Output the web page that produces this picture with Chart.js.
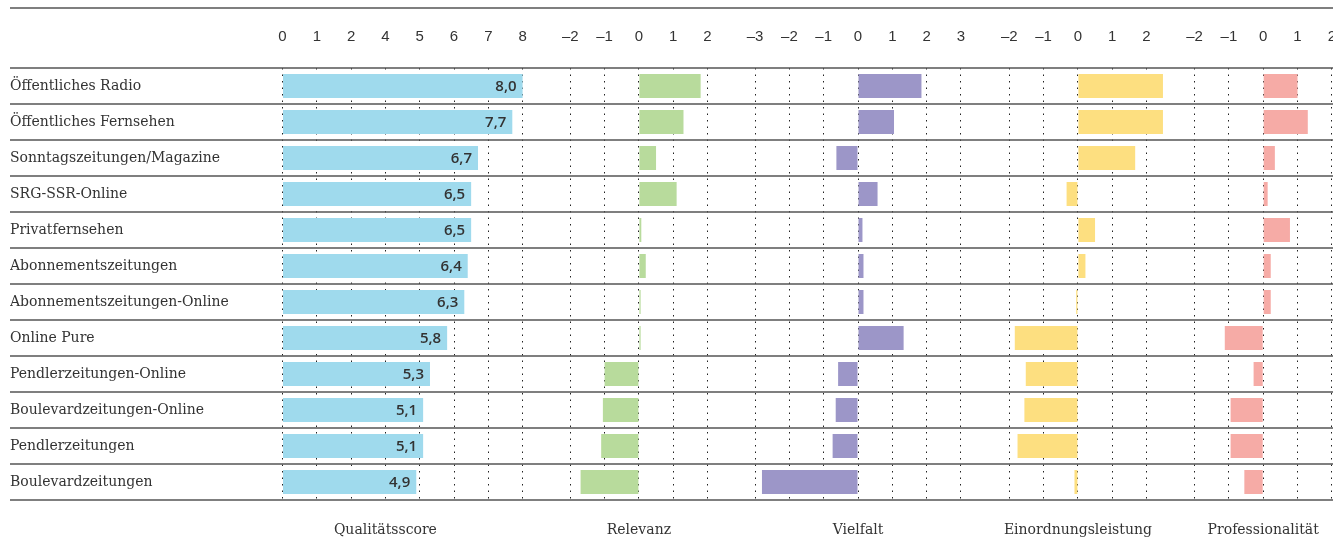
<!DOCTYPE html>
<html>
<head>
<meta charset="utf-8">
<script src="https://cdn.jsdelivr.net/npm/chart.js@4/dist/chart.umd.min.js"></script>
<style>
  html, body { margin: 0; padding: 0; background: #fff; overflow: hidden; }
  #wrap { position: relative; width: 1333px; height: 543px; }
  .panel { position: absolute; top: 0; height: 543px; }
</style>
</head>
<body>
<div id="wrap">
  <div class="panel" style="left:0;width:546px"><canvas id="c1"></canvas></div>
  <div class="panel" style="left:546px;width:185px"><canvas id="c2"></canvas></div>
  <div class="panel" style="left:731px;width:254px"><canvas id="c3"></canvas></div>
  <div class="panel" style="left:985px;width:186px"><canvas id="c4"></canvas></div>
  <div class="panel" style="left:1171px;width:174px"><canvas id="c5"></canvas></div>
</div>
<script>
const categories = [
  "Öffentliches Radio",
  "Öffentliches Fernsehen",
  "Sonntagszeitungen/Magazine",
  "SRG-SSR-Online",
  "Privatfernsehen",
  "Abonnementszeitungen",
  "Abonnementszeitungen-Online",
  "Online Pure",
  "Pendlerzeitungen-Online",
  "Boulevardzeitungen-Online",
  "Pendlerzeitungen",
  "Boulevardzeitungen"
];

const qualityScore = [8.0, 7.7, 6.7, 6.5, 6.5, 6.4, 6.3, 5.8, 5.3, 5.1, 5.1, 4.9];
const relevanz = [1.8, 1.3, 0.5, 1.1, 0.07, 0.2, 0.05, 0.05, -1.0, -1.05, -1.1, -1.7];
const vielfalt = [1.85, 1.05, -0.63, 0.57, 0.13, 0.16, 0.16, 1.33, -0.58, -0.65, -0.74, -2.8];
const einordnung = [2.48, 2.48, 1.67, -0.33, 0.5, 0.22, -0.05, -1.84, -1.52, -1.56, -1.76, -0.1];
const professionalitaet = [1.0, 1.3, 0.34, 0.13, 0.78, 0.22, 0.22, -1.12, -0.28, -0.95, -0.95, -0.55];

// tick labels of the first panel as printed (ticks sit at 1..8)
const qualityTicks = ["0", "1", "2", "4", "5", "6", "7", "8"];

const TEXT = "#333";
const SERIF = "'DejaVu Serif', serif";

function signed(v) {
  return v < 0 ? "\u2013" + Math.abs(v) : String(v);
}

// row separators, top rule, panel title and (optionally) value labels
const panelDecor = {
  id: "panelDecor",
  afterDraw(chart, args, opts) {
    const ctx = chart.ctx;
    const area = chart.chartArea;
    const n = categories.length;
    const rowH = (area.bottom - area.top) / n;
    ctx.save();
    ctx.strokeStyle = "#555";
    ctx.lineWidth = 1.5;
    ctx.beginPath();
    ctx.moveTo(opts.x0, 8);
    ctx.lineTo(chart.width, 8);
    for (let i = 0; i <= n; i++) {
      const y = area.top + i * rowH;
      ctx.moveTo(opts.x0, y);
      ctx.lineTo(chart.width, y);
    }
    ctx.stroke();

    ctx.fillStyle = TEXT;
    ctx.font = "14px " + SERIF;
    ctx.textAlign = "center";
    ctx.textBaseline = "middle";
    ctx.fillText(opts.title, chart.scales.x.getPixelForValue(opts.titleAt), 530);

    if (opts.valueLabels) {
      const meta = chart.getDatasetMeta(0);
      const data = chart.data.datasets[0].data;
      ctx.font = "600 15px 'Open Sans', sans-serif";
      ctx.textAlign = "right";
      meta.data.forEach((bar, i) => {
        ctx.fillText(data[i].toFixed(1).replace(".", ","), bar.x - 6, bar.y + 1);
      });
    }
    ctx.restore();
  }
};

function makePanel(canvasId, values, color, cfg) {
  return new Chart(document.getElementById(canvasId), {
    type: "bar",
    data: {
      labels: categories,
      datasets: [{
        data: values,
        backgroundColor: color,
        borderWidth: 0,
        base: cfg.base,
        clip: false,
        barPercentage: 0.667,
        categoryPercentage: 1.0
      }]
    },
    options: {
      indexAxis: "y",
      responsive: true,
      maintainAspectRatio: false,
      animation: false,
      layout: { padding: { left: cfg.padLeft, right: cfg.padRight, top: 0, bottom: 43 } },
      plugins: {
        legend: { display: false },
        tooltip: { enabled: false },
        panelDecor: { x0: cfg.x0, title: cfg.title, titleAt: cfg.titleAt, valueLabels: !!cfg.valueLabels }
      },
      scales: {
        x: {
          type: "linear",
          position: "top",
          min: cfg.min,
          max: cfg.max,
          afterFit: s => {
            s.height = 68;
            // let the tick labels hang over the edges instead of shrinking the area
            s.paddingLeft = 0;
            s.paddingRight = 0;
          },
          ticks: {
            stepSize: 1,
            padding: 22,
            color: TEXT,
            font: { family: "'Liberation Sans', sans-serif", size: 15 },
            maxRotation: 0,
            autoSkip: false,
            callback: cfg.tickLabel
          },
          grid: { color: "#222", lineWidth: 1, drawTicks: false },
          border: { display: false, dash: [1.5, 5] }
        },
        y: {
          display: !!cfg.showNames,
          afterFit: s => { s.width = cfg.namesWidth || 0; },
          grid: { display: false },
          border: { display: false },
          ticks: {
            crossAlign: "far",
            padding: 0,
            color: TEXT,
            font: { family: SERIF, size: 14 }
          }
        }
      }
    },
    plugins: [panelDecor]
  });
}

makePanel("c1", qualityScore, "#9fdaed", {
  min: 1, max: 8, base: 1, padLeft: 10, padRight: 23.4, x0: 10,
  showNames: true, namesWidth: 272.5, valueLabels: true,
  title: "Qualitätsscore", titleAt: 4,
  tickLabel: v => qualityTicks[v - 1]
});
makePanel("c2", relevanz, "#b8db9c", {
  min: -2, max: 2, padLeft: 24.3, padRight: 23.5, x0: 0,
  title: "Relevanz", titleAt: 0, tickLabel: signed
});
makePanel("c3", vielfalt, "#9c96c8", {
  min: -3, max: 3, padLeft: 24.1, padRight: 24.1, x0: 0,
  title: "Vielfalt", titleAt: 0, tickLabel: signed
});
makePanel("c4", einordnung, "#fddf80", {
  min: -2, max: 2, padLeft: 24.3, padRight: 24.5, x0: 0,
  title: "Einordnungsleistung", titleAt: 0, tickLabel: signed
});
makePanel("c5", professionalitaet, "#f6aba6", {
  min: -2, max: 2, padLeft: 23.6, padRight: 13.2, x0: 0,
  title: "Professionalität", titleAt: 0, tickLabel: signed
});
</script>
</body>
</html>
